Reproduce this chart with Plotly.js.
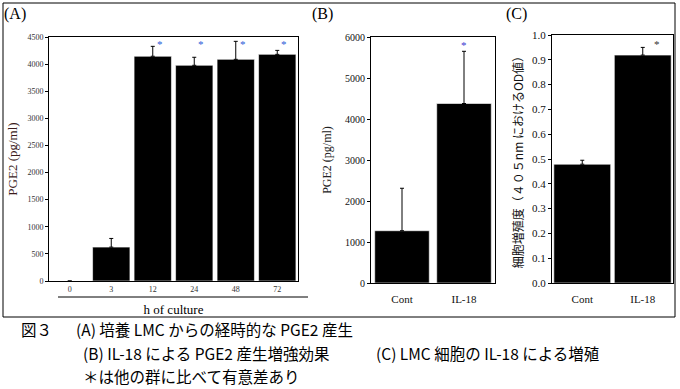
<!DOCTYPE html>
<html>
<head>
<meta charset="utf-8">
<script src="https://cdn.plot.ly/plotly-3.0.1.min.js"></script>
<style>html,body{margin:0;padding:0;background:#fff;}#chart{width:680px;height:389px;}</style>
</head>
<body>
<div id="chart"></div>
<script>
// ---- data ----
const hoursA = ['0', '3', '12', '24', '48', '72'];
const pge2A = [0, 625, 4145, 3978, 4088, 4180];
const pge2AErr = [null, 160, 183, 148, 332, 73];
const sigA = ['', '', '*', '*', '*', '*'];

const groupsB = ['Cont', 'IL-18'];
const pge2B = [1275, 4378];
const pge2BErr = [1036, 1273];
const sigB = ['', '*'];

const groupsC = ['Cont', 'IL-18'];
const odC = [0.479, 0.919];
const odCErr = [0.016, 0.031];
const sigC = ['', '*'];

const figLabel = '図３';
const captionA = '(A) 培養 LMC からの経時的な PGE2 産生';
const captionB = '(B) IL-18 による PGE2 産生増強効果';
const captionC = '(C) LMC 細胞の IL-18 による増殖';
const captionNote = '＊は他の群に比べて有意差あり';

// ---- helpers ----
const W = 680, H = 389;
const px = v => v / W;
const py = v => 1 - v / H;
const serif = 'Liberation Serif, Times New Roman, serif';
const cjk = 'Noto Sans CJK JP, sans-serif';

function barTrace(x, y, err, xa, ya, width) {
  return {
    type: 'bar', x: x, y: y, xaxis: xa, yaxis: ya, width: width,
    marker: {color: '#000', line: {color: '#fff', width: 0.6}},
    error_y: {type: 'data', symmetric: false, array: err, arrayminus: err.map(() => 0),
              color: '#000', thickness: 1, width: 2},
    hoverinfo: 'none', showlegend: false
  };
}

const data = [
  barTrace(hoursA, pge2A, pge2AErr, 'x', 'y', 0.9),
  barTrace(groupsB, pge2B, pge2BErr, 'x2', 'y2', 0.88),
  barTrace(groupsC, odC, odCErr, 'x3', 'y3', 0.94)
];

const frameAxis = {showline: true, mirror: true, linecolor: '#000', linewidth: 1,
                   showgrid: false, zeroline: false, automargin: false, fixedrange: true};

const annotations = [];
function addSig(labels, sig, xref, yref, yval, xshift, color) {
  labels.forEach((c, i) => {
    if (sig[i]) annotations.push({x: i, y: yval, xref: xref, yref: yref, text: sig[i],
      showarrow: false, xshift: xshift, yanchor: 'middle',
      font: {family: serif, size: 11, color: color}});
  });
}
addSig(hoursA, sigA, 'x', 'y', 4370, 7, '#2a5bd7');
addSig(groupsB, sigB, 'x2', 'y2', 5800, 0, '#3a3ad0');
addSig(groupsC, sigC, 'x3', 'y3', 0.965, 14, '#333');

// panel labels
[['(A)', 15], ['(B)', 322], ['(C)', 516]].forEach(([t, x]) => annotations.push({
  x: px(x), y: py(14), xref: 'paper', yref: 'paper', text: t, showarrow: false,
  xanchor: 'center', yanchor: 'middle', font: {family: serif, size: 16, color: '#000'}}));

// caption
[[figLabel, 19, 329], [captionA, 74, 329], [captionB, 81, 353], [captionC, 374, 353], [captionNote, 81, 376]]
  .forEach(([t, x, y]) =>
  annotations.push({x: px(x), y: py(y), xref: 'paper', yref: 'paper', text: t, showarrow: false,
    xanchor: 'left', yanchor: 'middle', font: {family: cjk, size: 15.5, color: '#000'}}));

const layout = {
  width: W, height: H, margin: {l: 0, r: 0, t: 0, b: 0},
  paper_bgcolor: '#fff', plot_bgcolor: '#fff', showlegend: false, bargap: 0.1,
  xaxis: Object.assign({}, frameAxis, {domain: [px(49), px(298)], anchor: 'y', type: 'category',
    categoryorder: 'array', categoryarray: hoursA, range: [-0.5, hoursA.length - 0.5], autorange: false,
    ticks: '', tickfont: {family: serif, size: 8, color: '#333'},
    title: {text: 'h of culture', font: {family: serif, size: 13, color: '#000'}, standoff: 12}}),
  yaxis: Object.assign({}, frameAxis, {domain: [py(281), py(37)], anchor: 'x', range: [0, 4500],
    dtick: 500, ticks: 'outside', ticklen: 3, tickcolor: '#000',
    tickfont: {family: serif, size: 8, color: '#333'},
    title: {text: 'PGE2 (pg/ml)', font: {family: serif, size: 13, color: '#3b1c1c'}, standoff: 6}}),
  xaxis2: Object.assign({}, frameAxis, {domain: [px(371), px(495)], anchor: 'y2', type: 'category',
    range: [-0.5, 1.5], autorange: false,
    ticks: '', ticklabelstandoff: 6, tickfont: {family: serif, size: 11, color: '#111'}}),
  yaxis2: Object.assign({}, frameAxis, {domain: [py(283), py(37)], anchor: 'x2', range: [0, 6000],
    dtick: 1000, ticks: 'outside', ticklen: 3, tickcolor: '#000',
    tickfont: {family: serif, size: 10, color: '#111'},
    title: {text: 'PGE2 (pg/ml)', font: {family: serif, size: 12, color: '#222'}, standoff: 10}}),
  xaxis3: Object.assign({}, frameAxis, {domain: [px(552), px(673)], anchor: 'y3', type: 'category',
    range: [-0.5, 1.5], autorange: false,
    ticks: '', ticklabelstandoff: 6, tickfont: {family: serif, size: 11, color: '#111'}}),
  yaxis3: Object.assign({}, frameAxis, {domain: [py(283), py(35)], anchor: 'x3', range: [0, 1.0],
    dtick: 0.1, tickformat: '.1f', ticks: 'outside', ticklen: 3, tickcolor: '#000',
    tickfont: {family: serif, size: 11, color: '#111'},
    title: {text: '細胞増殖度（４０５nm におけるOD値）', font: {family: cjk, size: 12, color: '#111'}, standoff: 5}}),
  shapes: [
    {type: 'rect', xref: 'paper', yref: 'paper', x0: px(3), x1: px(675), y0: py(317), y1: py(3),
     line: {color: '#000', width: 1}},
    {type: 'line', xref: 'paper', yref: 'paper', x0: px(58), x1: px(308), y0: py(297), y1: py(297),
     line: {color: '#000', width: 1}}
  ],
  annotations: annotations
};

Plotly.newPlot('chart', data, layout, {displayModeBar: false, staticPlot: true});
</script>
</body>
</html>
